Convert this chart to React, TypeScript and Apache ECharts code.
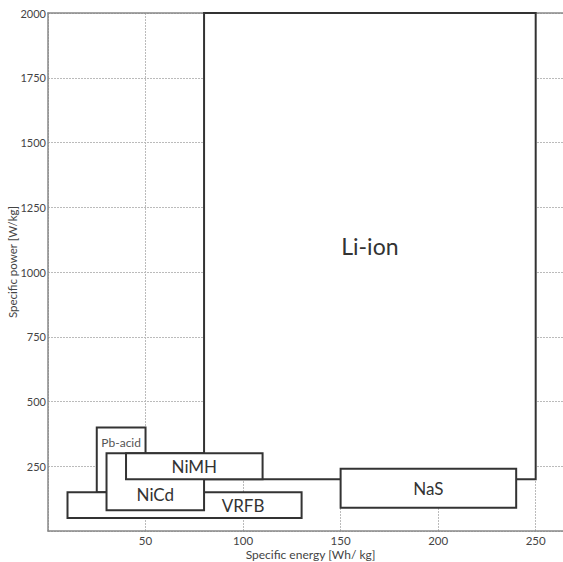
import React, { useEffect, useRef } from "react";
import * as echarts from "echarts";

// Battery technologies, drawn back to front
const technologies = ["Li-ion", "Pb-acid", "VRFB", "NiCd", "NiMH", "NaS"];
// Specific energy range [Wh/kg]
const energyMin = [80, 25, 10, 30, 40, 150];
const energyMax = [250, 50, 130, 80, 110, 240];
// Specific power range [W/kg]
const powerMin = [200, 150, 50, 80, 200, 90];
const powerMax = [2000, 400, 150, 300, 300, 240];
// Where each name sits, in data units
const labelEnergy = [165, 37.5, 100, 55, 75, 195];
const labelPower = [1100, 343, 100, 140, 250, 165];

const xTicks = [50, 100, 150, 200, 250];
const yTicks = [250, 500, 750, 1000, 1250, 1500, 1750, 2000];

const labelSize: Record<string, number> = {
  "Li-ion": 23,
  "Pb-acid": 12,
  VRFB: 17,
  NiCd: 17,
  NiMH: 17,
  NaS: 17,
};

const FONT = "Lato, 'Open Sans', sans-serif";

export default function App() {
  const ref = useRef<HTMLDivElement>(null);

  useEffect(() => {
    if (!ref.current) return;
    const chart = echarts.init(ref.current, null, { renderer: "svg" });

    const data = technologies.map((name, i) => ({
      name,
      value: [energyMin[i], energyMax[i], powerMin[i], powerMax[i], labelEnergy[i], labelPower[i]],
    }));

    chart.setOption({
      animation: false,
      backgroundColor: "#fff",
      grid: { left: 48, right: 0, top: 13, bottom: 31, containLabel: false, outerBoundsMode: "none" },
      xAxis: [
        {
          type: "value",
          min: 0,
          max: 264,
          interval: 50,
          name: "Specific energy [Wh/ kg]",
          nameLocation: "middle",
          nameGap: 17,
          nameMoveOverlap: false,
          nameTextStyle: { fontFamily: FONT, fontSize: 12, color: "#444", padding: [0, 0, 0, 10] },
          axisLine: { show: true, lineStyle: { color: "#888", width: 1.5 } },
          axisTick: { show: false },
          axisLabel: {
            show: true,
            showMaxLabel: false,
            margin: 3,
            fontFamily: FONT,
            fontSize: 11.5,
            color: "#444",
            formatter: (v: number) => (xTicks.includes(v) ? String(v) : ""),
          },
          splitLine: { show: true, lineStyle: { color: "#bbb", type: [2, 1], width: 1 } },
        },
        {
          type: "value",
          position: "top",
          min: 0,
          max: 264,
          axisLine: { show: true, lineStyle: { color: "#888", width: 1.5 } },
          axisTick: { show: false },
          axisLabel: { show: false },
          splitLine: { show: false },
        },
      ],
      yAxis: {
        type: "value",
        min: 0,
        max: 2000,
        interval: 250,
        name: "Specific power [W/kg]",
        nameLocation: "middle",
        nameGap: 30,
        nameRotate: 90,
        nameMoveOverlap: false,
        nameTextStyle: { fontFamily: FONT, fontSize: 11.5, color: "#444", padding: [0, 0, 0, 20] },
        axisLine: { show: true, lineStyle: { color: "#888", width: 1.5 } },
        axisTick: { show: false },
        axisLabel: {
          margin: 2,
          fontFamily: FONT,
          fontSize: 11,
          color: "#444",
          formatter: (v: number) => (yTicks.includes(v) ? String(v) : ""),
        },
        splitLine: { show: true, lineStyle: { color: "#bbb", type: [2, 1], width: 1 } },
      },
      series: [
        {
          type: "custom",
          xAxisIndex: 0,
          yAxisIndex: 0,
          encode: { x: [0, 1, 4], y: [2, 3, 5] },
          data,
          renderItem: (params: any, api: any) => {
            const i = params.dataIndex;
            const name = technologies[i];
            const p0 = api.coord([api.value(0), api.value(3)]);
            const p1 = api.coord([api.value(1), api.value(2)]);
            const lp = api.coord([api.value(4), api.value(5)]);
            return {
              type: "group",
              children: [
                {
                  type: "rect",
                  shape: { x: p0[0], y: p0[1], width: p1[0] - p0[0], height: p1[1] - p0[1] },
                  style: { fill: "#fff", stroke: "#333", lineWidth: 2 },
                },
                {
                  type: "text",
                  x: lp[0],
                  y: lp[1],
                  style: {
                    text: name,
                    fontFamily: FONT,
                    fontSize: labelSize[name],
                    fill: name === "Pb-acid" ? "#555" : "#333",
                    align: "center",
                    verticalAlign: "middle",
                  },
                },
              ],
            };
          },
        },
      ],
    });

    return () => chart.dispose();
  }, []);

  return <div ref={ref} style={{ width: 563, height: 562, position: "absolute", left: 0, top: 0 }} />;
}
